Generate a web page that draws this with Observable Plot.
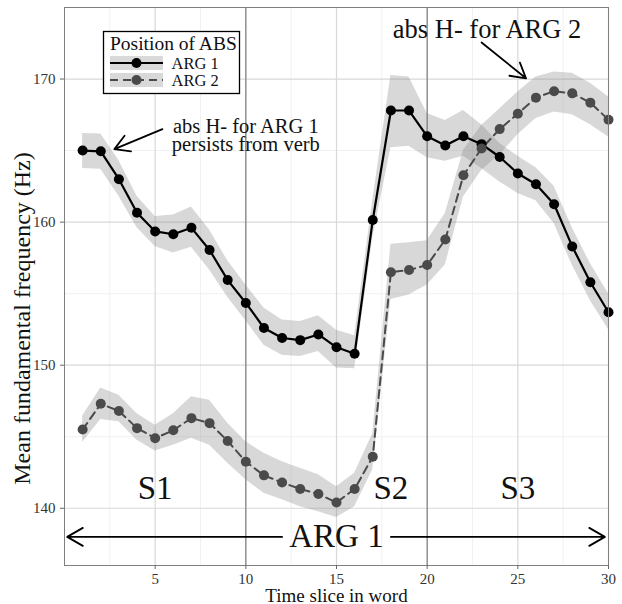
<!DOCTYPE html>
<html><head><meta charset="utf-8">
<script src="https://cdn.jsdelivr.net/npm/d3@7"></script>
<script src="https://cdn.jsdelivr.net/npm/@observablehq/plot@0.6"></script>
<style>
html,body{margin:0;padding:0;background:#fff;}
#wrap{position:relative;width:622px;height:604px;}
#wrap svg{display:block;}
#legend{position:absolute;left:0;top:0;pointer-events:none;}
</style></head><body><div id="wrap"></div>
<script>
// ---- data ----
const slices = [1,2,3,4,5,6,7,8,9,10,11,12,13,14,15,16,17,18,19,20,21,22,23,24,25,26,27,28,29,30];
const seriesNames = ["ARG 1", "ARG 2"];
const arg1Mean = [165.0,164.95,163.0,160.65,159.35,159.15,159.6,158.05,155.95,154.35,152.6,151.9,151.75,152.15,151.25,150.8,160.15,167.8,167.8,166.0,165.35,166.0,165.45,164.55,163.4,162.65,161.25,158.3,155.8,153.7];
const arg1Lo   = [163.75,163.7,161.8,159.6,158.3,157.85,158.25,156.65,154.75,153.1,151.4,150.7,150.6,150.95,149.8,149.75,158.9,165.2,165.3,164.5,164.25,164.6,163.75,162.8,162.0,161.5,159.9,157.0,154.5,152.5];
const arg1Hi   = [166.2,166.15,164.3,161.8,160.4,160.5,161.05,159.45,157.3,155.6,154.0,153.15,153.05,153.45,152.45,152.05,161.5,170.25,170.15,167.6,167.1,167.8,166.8,165.5,164.6,163.8,162.5,159.6,157.1,155.0];
const arg2Mean = [145.5,147.3,146.8,145.6,144.9,145.45,146.3,145.95,144.7,143.25,142.3,141.8,141.35,141.0,140.4,141.35,143.6,156.5,156.65,157.0,158.78,163.27,165.15,166.5,167.58,168.7,169.15,169.0,168.35,167.15];
const arg2Lo   = [144.6,146.2,146.05,144.75,144.0,144.4,144.9,144.4,143.15,142.0,141.05,140.6,140.1,139.75,139.35,140.1,142.7,154.6,154.9,155.6,157.0,161.75,163.6,164.7,166.1,167.25,167.7,167.5,166.8,165.95];
const arg2Hi   = [146.45,148.4,147.9,146.6,145.8,146.6,147.8,147.55,145.95,144.65,143.85,143.25,142.8,142.35,141.5,142.45,145.2,158.45,158.55,158.7,160.6,165.0,166.75,167.9,169.1,170.15,170.5,170.4,169.7,168.75];

const xTicks = [5,10,15,20,25,30];
const yTicks = [140,150,160,170];
const xMinor = [2.5,7.5,12.5,17.5,22.5,27.5];
const yMinor = [145,155,165];
const regionBounds = [10,20];

const segLabels = ["S1","S2","S3"];
const segX = [5,18,25];
const segY = 141.4;
const spanLabel = "ARG 1";
const spanX = 15, spanY = 138;
const spanArrowFrom = [12, 18];
const spanArrowTo = [0.15, 29.8];

const noteTexts = ["abs H- for ARG 1\npersists from verb", "abs H- for ARG 2"];
const noteX = [10, 23.3];
const noteY = [165.0, 172.9];
const noteSize = [20.5, 26.5];
const noteArrowX1 = [5.4, 23.0], noteArrowY1 = [166.5, 172.55];
const noteArrowX2 = [2.75, 25.45], noteArrowY2 = [165.1, 170.05];

// ---- tables ----
const rows = [];
slices.forEach((s, i) => {
  rows.push({slice: s, series: seriesNames[0], y: arg1Mean[i], lo: arg1Lo[i], hi: arg1Hi[i]});
  rows.push({slice: s, series: seriesNames[1], y: arg2Mean[i], lo: arg2Lo[i], hi: arg2Hi[i]});
});
const r1 = rows.filter(d => d.series === seriesNames[0]);
const r2 = rows.filter(d => d.series === seriesNames[1]);
const segs = segLabels.map((t, i) => ({t, x: segX[i], y: segY}));
const spanArrows = spanArrowFrom.map((x1, i) => ({x1, x2: spanArrowTo[i], y: spanY}));
const notes = noteTexts.map((t, i) => ({t, x: noteX[i], y: noteY[i], s: noteSize[i]}));
const noteArrows = noteArrowX1.map((x1, i) => ({x1, y1: noteArrowY1[i], x2: noteArrowX2[i], y2: noteArrowY2[i]}));

const FONT = "'Liberation Serif','Times New Roman',serif";
const c2 = "#4a4a4a";

const chart = Plot.plot({
  width: 622, height: 604,
  marginLeft: 64, marginRight: 14, marginTop: 7, marginBottom: 39,
  style: {fontFamily: FONT, background: "#fff"},
  x: {domain: [0, 30]},
  y: {domain: [136, 175]},
  marks: [
    Plot.gridX({ticks: xMinor, stroke: "#f1f1f1", strokeOpacity: 1, strokeWidth: 1}),
    Plot.gridY({ticks: yMinor, stroke: "#f1f1f1", strokeOpacity: 1, strokeWidth: 1}),
    Plot.gridX({ticks: xTicks, stroke: "#d8d8d8", strokeOpacity: 1, strokeWidth: 1.2}),
    Plot.gridY({ticks: yTicks, stroke: "#d8d8d8", strokeOpacity: 1, strokeWidth: 1.2}),
    Plot.ruleX(regionBounds, {stroke: "#777", strokeWidth: 1.1}),
    Plot.areaY(rows, {x: "slice", y1: "lo", y2: "hi", z: "series", fill: "#7f7f7f", fillOpacity: 0.3}),
    Plot.line(r1, {x: "slice", y: "y", stroke: "black", strokeWidth: 2.2}),
    Plot.line(r2, {x: "slice", y: "y", stroke: c2, strokeWidth: 2, strokeDasharray: "8,5"}),
    Plot.dot(r1, {x: "slice", y: "y", r: 5, fill: "black", stroke: null}),
    Plot.dot(r2, {x: "slice", y: "y", r: 5, fill: c2, stroke: null}),
    Plot.frame({stroke: "#7f7f7f", strokeWidth: 1}),
    Plot.axisX({ticks: xTicks, tickSize: 4, tickPadding: 4, fontSize: 15, fontFamily: FONT, fontVariant: "normal", label: null, stroke: "#666", fill: "#333"}),
    Plot.axisY({ticks: yTicks, tickSize: 4, tickPadding: 5, fontSize: 15, fontFamily: FONT, fontVariant: "normal", label: null, stroke: "#666", fill: "#333"}),
    Plot.text(["Time slice in word"], {frameAnchor: "bottom", dy: 36, lineAnchor: "bottom", textAnchor: "middle", fontSize: 19, fill: "#111"}),
    Plot.text(["Mean fundamental frequency (Hz)"], {frameAnchor: "left", dx: -34.7, dy: 32, rotate: -90, lineAnchor: "bottom", textAnchor: "middle", fontSize: 24, fill: "#111"}),
    Plot.text(segs, {x: "x", y: "y", text: "t", fontSize: 33, lineAnchor: "middle", fill: "#111"}),
    Plot.text([{t: spanLabel, x: spanX, y: spanY}], {x: "x", y: "y", text: "t", fontSize: 33, lineAnchor: "middle", fill: "#111"}),
    Plot.arrow(spanArrows, {x1: "x1", y1: "y", x2: "x2", y2: "y", stroke: "black", strokeWidth: 1.8, headLength: 15, headAngle: 60}),
    Plot.text(notes.slice(0, 1), {x: "x", y: "y", text: "t", fontSize: notes[0].s, lineAnchor: "bottom", lineHeight: 0.88, fill: "#111"}),
    Plot.text(notes.slice(1), {x: "x", y: "y", text: "t", fontSize: notes[1].s, lineAnchor: "bottom", fill: "#111"}),
    Plot.arrow(noteArrows, {x1: "x1", y1: "y1", x2: "x2", y2: "y2", stroke: "black", strokeWidth: 1.8, headLength: 14, headAngle: 60})
  ]
});
document.getElementById("wrap").appendChild(chart);

// ---- legend (overlay) ----
const lg = d3.select("#wrap").append("svg").attr("id", "legend")
  .attr("width", 622).attr("height", 604).style("font-family", FONT);
lg.append("rect").attr("x", 103.5).attr("y", 31.5).attr("width", 136).attr("height", 62)
  .attr("fill", "#fff").attr("stroke", "black").attr("stroke-width", 1.3);
lg.append("text").attr("x", 110).attr("y", 50).attr("font-size", 19.5).attr("fill", "#111").text("Position of ABS");
const keyY = [56, 73];
const keyColor = ["black", c2];
const keyDash = [null, "8,5"];
seriesNames.forEach((name, i) => {
  const y0 = keyY[i];
  lg.append("rect").attr("x", 110).attr("y", y0).attr("width", 53).attr("height", 14).attr("fill", "#d9d9d9");
  lg.append("line").attr("x1", 110).attr("x2", 163).attr("y1", y0 + 7).attr("y2", y0 + 7)
    .attr("stroke", keyColor[i]).attr("stroke-width", 2.2).attr("stroke-dasharray", keyDash[i]);
  lg.append("circle").attr("cx", 136.5).attr("cy", y0 + 7).attr("r", 5).attr("fill", keyColor[i]);
  lg.append("text").attr("x", 171.5).attr("y", y0 + 12.5).attr("font-size", 16.5).attr("fill", "#111").text(name);
});
</script>
</body></html>
